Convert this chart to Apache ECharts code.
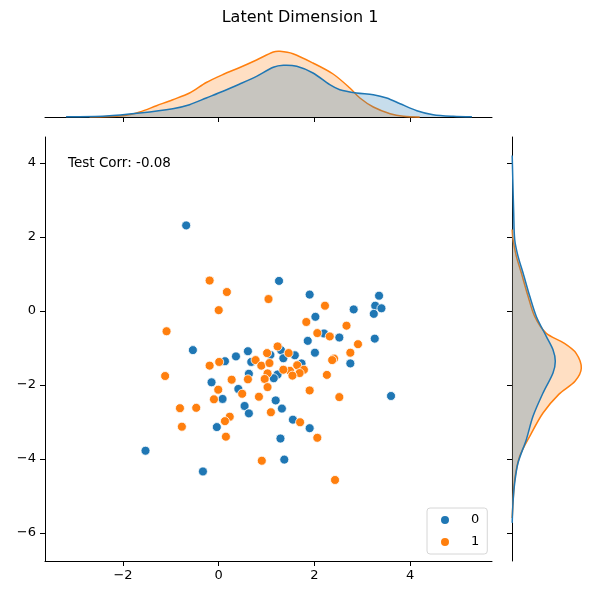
<!DOCTYPE html>
<html>
<head>
<meta charset="utf-8">
<script src="https://cdn.jsdelivr.net/npm/echarts@6/dist/echarts.min.js"></script>
<style>
  html, body { margin: 0; padding: 0; background: #fff; }
  #chart { width: 600px; height: 600px; }
</style>
</head>
<body>
<div id="chart"></div>
<script>
// scatter points, class 0 (blue) and class 1 (orange)
var class0 = [
  [-0.68, 2.31], [-0.54, -1.06], [0.13, -1.36], [0.36, -1.23], [0.61, -1.09],
  [0.68, -1.38], [0.63, -1.70], [-0.15, -1.93], [0.41, -2.11], [0.08, -2.38],
  [0.54, -2.57], [0.63, -2.77], [-0.04, -3.14], [-1.53, -3.78], [-0.33, -4.34],
  [1.26, 0.81], [1.90, 0.44], [3.35, 0.41], [3.27, 0.14], [3.40, 0.07],
  [2.82, 0.04], [3.24, -0.08], [2.02, -0.16], [2.20, -0.61], [2.52, -0.72],
  [3.26, -0.75], [1.86, -0.81], [2.01, -1.13], [2.75, -1.42], [3.60, -2.30],
  [1.19, -2.42], [1.32, -2.64], [1.55, -2.94], [1.90, -3.17], [1.29, -3.45],
  [1.37, -4.02], [1.08, -1.19], [1.30, -1.06], [1.35, -1.28], [1.59, -1.20],
  [1.73, -1.42], [1.23, -1.72], [1.15, -1.82]
]
var class1 = [
  [-0.19, 0.82], [0.17, 0.51], [0.00, 0.02], [-1.09, -0.55], [-1.12, -1.76],
  [-0.19, -1.48], [0.01, -1.38], [0.77, -1.33], [0.61, -1.85], [0.27, -1.86],
  [-0.01, -2.13], [0.49, -2.24], [-0.10, -2.39], [-0.81, -2.63], [-0.47, -2.62],
  [0.84, -2.32], [0.23, -2.86], [0.13, -2.98], [-0.77, -3.13], [0.15, -3.40],
  [0.90, -4.05], [1.04, 0.32], [2.22, 0.14], [1.83, -0.30], [2.67, -0.40],
  [2.06, -0.60], [2.32, -0.69], [2.91, -0.90], [2.75, -1.13], [2.41, -1.29],
  [2.37, -1.33], [2.26, -1.73], [1.90, -2.15], [2.52, -2.33], [1.09, -2.74],
  [1.70, -3.01], [2.06, -3.43], [2.43, -4.57], [0.89, -1.48], [1.01, -1.14],
  [1.06, -1.41], [1.23, -0.96], [1.46, -1.14], [1.64, -1.47], [1.78, -1.59],
  [1.69, -1.68], [1.49, -1.62], [1.54, -1.75], [1.35, -1.59], [1.02, -1.69],
  [0.96, -1.84], [1.02, -2.06]
]

// marginal KDE curves: [x, density] on top, [y, density] on the right
var topKde0 = [
  [-3.19, 0.2], [-2.35, 1.0], [-1.65, 4], [-0.96, 8.3], [-0.61, 12.3], [-0.26, 19],
  [0.09, 25.7], [0.44, 33], [0.79, 40.7], [1.14, 49.7], [1.35, 51.7], [1.63, 50.7],
  [1.97, 44], [2.32, 32.3], [2.53, 27.3], [2.88, 24], [3.23, 22.3], [3.51, 19],
  [3.79, 13.3], [4.14, 6.3], [4.48, 2.3], [4.90, 0.7], [5.29, 0.2]
]
var topKde1 = [
  [-2.7, 0.2], [-2.0, 1.3], [-1.65, 5], [-1.30, 11.3], [-0.96, 17.3], [-0.61, 24],
  [-0.26, 34.5], [0.09, 42.5], [0.44, 49.5], [0.79, 57], [1.14, 65], [1.28, 65.7],
  [1.55, 63.3], [1.97, 54], [2.39, 43], [2.74, 29], [2.95, 19], [3.23, 10],
  [3.58, 3.3], [3.86, 0.7], [4.2, 0.1]
]
var rightKde0 = [
  [4.2, 0.2], [3.55, 0.8], [2.65, 1.7], [1.93, 2.7], [1.48, 6], [1.03, 11],
  [0.40, 17.7], [-0.15, 24.3], [-0.69, 34.3], [-1.05, 41], [-1.36, 43.3], [-1.68, 41],
  [-2.22, 31], [-2.85, 21], [-3.48, 14.3], [-4.11, 6], [-4.65, 2.7], [-5.19, 1],
  [-5.73, 0.2]
]
var rightKde1 = [
  [2.2, 0.2], [1.93, 1], [1.48, 4.3], [1.03, 9.3], [0.40, 16], [-0.15, 22.7],
  [-0.60, 34], [-0.87, 52], [-1.14, 64], [-1.55, 69.3], [-1.90, 63], [-2.25, 47],
  [-2.76, 31], [-3.39, 17.7], [-3.93, 7.7], [-4.56, 2.7], [-5.19, 1], [-5.6, 0.2]
]

var xTicks = [-2, 0, 2, 4]
var yTicks = [-6, -4, -2, 0, 2, 4]
var classNames = ['0', '1']
var titleText = 'Latent Dimension 1'
var corrText = 'Test Corr: -0.08'

var colors = ['#1f77b4', '#ff7f0e']
var fills = ['rgba(31,119,180,0.25)', 'rgba(255,127,14,0.25)']
var xRange = [-3.63, 5.71]
var yRange = [-6.76, 4.70]
var font = 'DejaVu Sans'

function fmt(v) {
  return v < 0 ? '\u2212' + Math.abs(v) : String(v)
}

// draws a filled kde curve through the axis scales; vertical = density on x axis
function kdeSeries(axisIdx, pts, k, vertical) {
  return {
    type: 'custom',
    xAxisIndex: axisIdx,
    yAxisIndex: axisIdx,
    silent: true,
    z: 2,
    data: pts,
    renderItem: function (params, api) {
      if (params.dataIndex !== 0) return null
      var line = pts.map(function (p) {
        return api.coord(vertical ? [p[1], p[0]] : p)
      })
      var first = pts[0][0]
      var last = pts[pts.length - 1][0]
      var b0 = api.coord(vertical ? [0, first] : [first, 0])
      var b1 = api.coord(vertical ? [0, last] : [last, 0])
      return {
        type: 'group',
        children: [
          {
            type: 'polygon',
            shape: { points: [b0].concat(line, [b1]), smooth: 0.3 },
            style: { fill: fills[k], stroke: null }
          },
          {
            type: 'polyline',
            shape: { points: line, smooth: 0.3 },
            style: { stroke: colors[k], lineWidth: 1.5, fill: null }
          }
        ]
      }
    }
  }
}

var blackLine = { show: true, onZero: false, lineStyle: { color: '#000', width: 1 } }
var tickStyle = { show: true, length: 5, lineStyle: { color: '#000', width: 1 } }

var myChart = echarts.init(document.getElementById('chart'))
var option = {
  animation: false,
  textStyle: { fontFamily: font },
  grid: [
    { left: 45, top: 137, width: 447, height: 424 },
    { left: 45, top: 32, width: 447, height: 85 },
    { left: 512, top: 137, width: 85, height: 424 }
  ],
  xAxis: [
    {
      gridIndex: 0, type: 'value', min: xRange[0], max: xRange[1],
      axisLine: blackLine,
      axisTick: Object.assign({ customValues: xTicks }, tickStyle),
      axisLabel: { customValues: xTicks, formatter: fmt, color: '#000', fontSize: 13, margin: 8, fontFamily: font },
      splitLine: { show: false }
    },
    {
      gridIndex: 1, type: 'value', min: xRange[0], max: xRange[1],
      axisLine: blackLine,
      axisTick: Object.assign({ customValues: xTicks }, tickStyle),
      axisLabel: { show: false },
      splitLine: { show: false }
    },
    { gridIndex: 2, type: 'value', min: 0, max: 85, show: false }
  ],
  yAxis: [
    {
      gridIndex: 0, type: 'value', min: yRange[0], max: yRange[1],
      axisLine: blackLine,
      axisTick: Object.assign({ customValues: yTicks }, tickStyle),
      axisLabel: { customValues: yTicks, formatter: fmt, color: '#000', fontSize: 13, margin: 9, fontFamily: font },
      splitLine: { show: false }
    },
    { gridIndex: 1, type: 'value', min: 0, max: 85, show: false },
    {
      gridIndex: 2, type: 'value', min: yRange[0], max: yRange[1],
      axisLine: blackLine,
      axisTick: Object.assign({ customValues: yTicks }, tickStyle),
      axisLabel: { show: false },
      splitLine: { show: false }
    }
  ],
  legend: {
    data: classNames,
    orient: 'vertical',
    left: 427,
    top: 508,
    icon: 'circle',
    itemWidth: 10,
    itemHeight: 10,
    itemGap: 8,
    padding: [5, 8, 5, 12],
    backgroundColor: '#fff',
    borderColor: '#d6d6d6',
    borderWidth: 1,
    borderRadius: 3,
    textStyle: { color: '#000', fontSize: 13, fontFamily: font, lineHeight: 14, padding: [0, 0, 0, 16] }
  },
  graphic: [
    {
      type: 'text', left: 'center', top: 10,
      style: { text: titleText, fontSize: 16, fontFamily: font, fill: '#000' }
    },
    {
      type: 'text', x: 68, y: 156,
      style: { text: corrText, fontSize: 13.5, fontFamily: font, fill: '#000' }
    }
  ],
  series: [
    {
      name: classNames[0], type: 'scatter', xAxisIndex: 0, yAxisIndex: 0,
      data: class0, symbolSize: 9,
      itemStyle: { color: colors[0], borderColor: '#fff', borderWidth: 0.8, opacity: 1 }
    },
    {
      name: classNames[1], type: 'scatter', xAxisIndex: 0, yAxisIndex: 0,
      data: class1, symbolSize: 9,
      itemStyle: { color: colors[1], borderColor: '#fff', borderWidth: 0.8, opacity: 1 }
    },
    // orange drawn first so the blue fill sits on top (gives the grey overlap)
    kdeSeries(1, topKde1, 1, false),
    kdeSeries(1, topKde0, 0, false),
    kdeSeries(2, rightKde1, 1, true),
    kdeSeries(2, rightKde0, 0, true)
  ]
}
myChart.setOption(option)
</script>
</body>
</html>
